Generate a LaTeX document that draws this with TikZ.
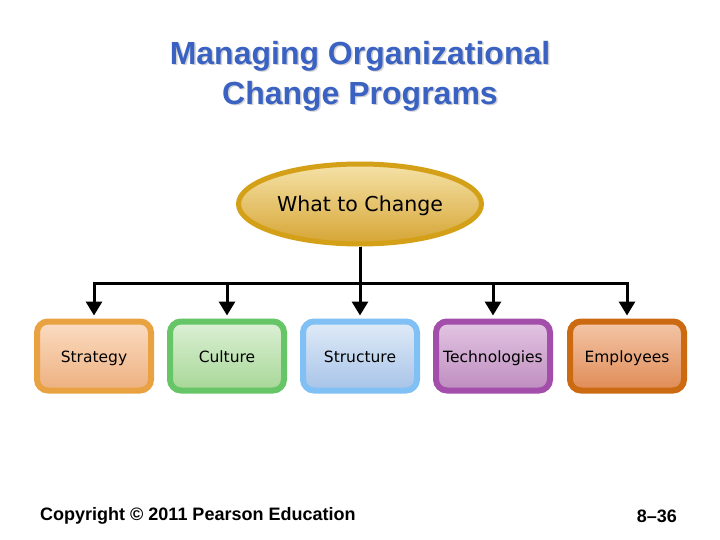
\documentclass[tikz,border=0pt]{standalone}
\usepackage{fontspec}
\setmainfont{Liberation Sans}
\newfontfamily\boxfont{DejaVu Sans}
\usetikzlibrary{arrows.meta,shapes.geometric}
\definecolor{titleblue}{HTML}{3A62C2}
\definecolor{goldline}{HTML}{D4A017}
\definecolor{goldtop}{HTML}{F5E2A8}
\definecolor{goldbot}{HTML}{D6A534}
\definecolor{c1line}{HTML}{E9A242}\definecolor{c1top}{HTML}{FBDCC2}\definecolor{c1bot}{HTML}{EDB07F}
\definecolor{c2line}{HTML}{66C566}\definecolor{c2top}{HTML}{DDF0D6}\definecolor{c2bot}{HTML}{A6D796}
\definecolor{c3line}{HTML}{80C0F5}\definecolor{c3top}{HTML}{E0EBF7}\definecolor{c3bot}{HTML}{A7C3E8}
\definecolor{c4line}{HTML}{A24EAA}\definecolor{c4top}{HTML}{E3C5E3}\definecolor{c4bot}{HTML}{BE8DBF}
\definecolor{c5line}{HTML}{CC6A12}\definecolor{c5top}{HTML}{F3C6A8}\definecolor{c5bot}{HTML}{E08B55}
\tikzset{
  catbox/.style={line width=6pt, rounded corners=11pt, minimum width=114pt, minimum height=69pt, inner sep=0pt, text height=15pt, text depth=2pt, font=\boxfont\fontsize{15.5}{17}\selectfont, text=black},
  conn/.style={draw=black, line width=3pt},
  arr/.style={conn, -{Triangle[width=16pt,length=14pt]}, shorten >=3pt},
  titletext/.style={font=\bfseries\fontsize{32}{40}\selectfont, align=center},
}
\begin{document}
\begin{tikzpicture}[x=1pt,y=-1pt]
\useasboundingbox (0,0) rectangle (720,540);
\fill[white] (0,0) rectangle (720,540);
% title
\node[titletext, text=black!18] (titleshadow) at (361.5,77.5) {Managing Organizational\\Change Programs};
\node[titletext, text=titleblue] (title) at (360,76) {Managing Organizational\\Change Programs};
% ellipse
\node[ellipse, draw=goldline, line width=5pt, top color=goldtop, bottom color=goldbot, minimum width=243pt, minimum height=80pt, inner sep=0pt, text height=17pt, text depth=2pt, font=\boxfont\fontsize{20.5}{22}\selectfont] (what) at (360,204) {What to Change};
% boxes
\node[catbox, draw=c1line, top color=c1top, bottom color=c1bot] (s1) at (94,356) {Strategy};
\node[catbox, draw=c2line, top color=c2top, bottom color=c2bot] (s2) at (227,356) {Culture};
\node[catbox, draw=c3line, top color=c3top, bottom color=c3bot] (s3) at (360,356) {Structure};
\node[catbox, draw=c4line, top color=c4top, bottom color=c4bot] (s4) at (493,356) {Technologies};
\node[catbox, draw=c5line, top color=c5top, bottom color=c5bot] (s5) at (627,356) {Employees};
% connectors
\coordinate (bus) at (360,283);
\foreach \b in {s1,s2,s3,s4,s5}{
  \draw[arr] (what.south) -- (bus) -| (\b.north);
}
% footer
\node[anchor=west, font=\bfseries\fontsize{18}{20}\selectfont, inner sep=0pt] (copy) at (40,516) {Copyright © 2011 Pearson Education};
\node[anchor=east, font=\bfseries\fontsize{18}{20}\selectfont, inner sep=0pt] (page) at (677,516) {8–36};
\end{tikzpicture}
\end{document}
